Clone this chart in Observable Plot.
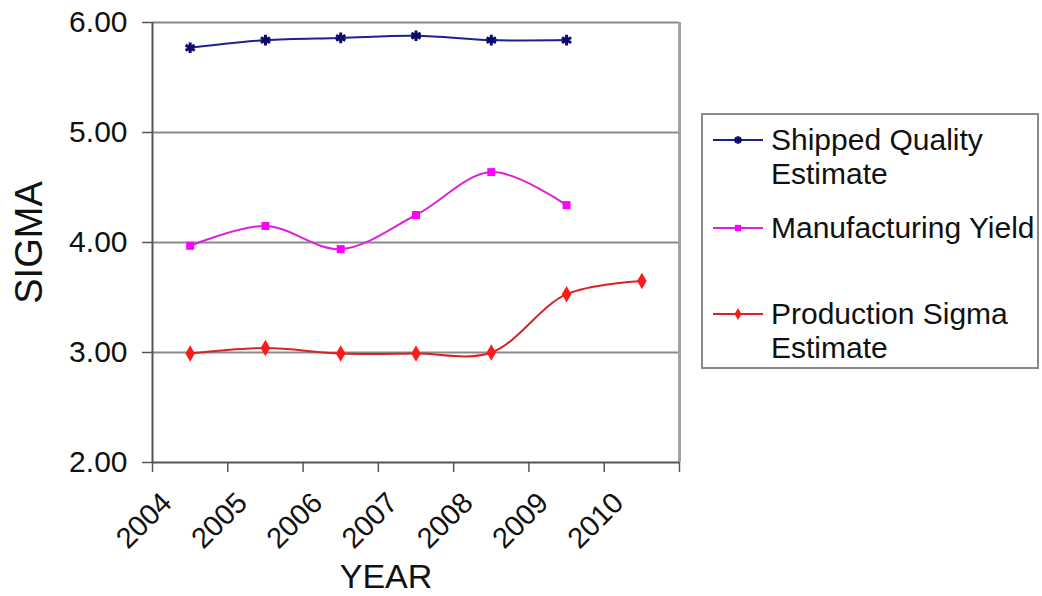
<!DOCTYPE html>
<html>
<head>
<meta charset="utf-8">
<script src="https://cdn.jsdelivr.net/npm/d3@7"></script>
<script src="https://cdn.jsdelivr.net/npm/@observablehq/plot@0.6"></script>
<style>
  html, body { margin: 0; padding: 0; background: #fff; }
  #chart { position: relative; width: 1042px; height: 596px; font-family: "Liberation Sans", Arial, sans-serif; }
  #legend {
    position: absolute; left: 701px; top: 113px; width: 338px; height: 256px;
    border: 2px solid #8a8a8a; background: #fff; box-sizing: border-box;
  }
  .entry { position: absolute; left: 10px; display: flex; align-items: flex-start; }
  .entry svg { flex: none; }
  .entry .lbl { font-size: 30px; line-height: 34px; color: #111; white-space: nowrap; }
</style>
</head>
<body>
<div id="chart"></div>
<script>
// Category years; each value sits in the middle of its year slot
const years = [2004, 2005, 2006, 2007, 2008, 2009, 2010];
const tickYears = [2004, 2005, 2006, 2007, 2008, 2009, 2010, 2011];
const yTicks = [2, 3, 4, 5, 6];
const gridValues = [3, 4, 5, 6];

// Sigma levels per year
const shippedQuality = [5.77, 5.84, 5.86, 5.88, 5.84, 5.84];
const manufacturingYield = [3.97, 4.15, 3.94, 4.25, 4.64, 4.34];
const productionSigma = [2.99, 3.04, 2.99, 2.99, 3.00, 3.53, 3.65];

const seriesNames = ["Shipped Quality Estimate", "Manufacturing Yield", "Production Sigma Estimate"];
const legendLines = [["Shipped Quality", "Estimate"], ["Manufacturing Yield"], ["Production Sigma", "Estimate"]];
const lineColors = ["#1f1f8f", "#dd22dd", "#d62424"];
const markColors = ["#0a0a6e", "#ff00ff", "#ff1a1a"];
const symbols = ["asterisk", "square", "diamond"];

const rows = (name, values) => values.map((v, i) => ({series: name, year: years[i], slot: years[i] + 0.5, value: v}));
const data = [
  ...rows(seriesNames[0], shippedQuality),
  ...rows(seriesNames[1], manufacturingYield),
  ...rows(seriesNames[2], productionSigma)
];

const font = "Liberation Sans, Arial, sans-serif";

const seriesMarks = seriesNames.flatMap((name, i) => {
  const d = data.filter(r => r.series === name);
  const dot = symbols[i] === "asterisk"
    ? Plot.dot(d, {x: "slot", y: "value", symbol: "asterisk", r: 5, stroke: markColors[i], strokeWidth: 3})
    : Plot.dot(d, {x: "slot", y: "value", symbol: symbols[i], r: symbols[i] === "square" ? 4.5 : 5, fill: markColors[i], stroke: "none"});
  return [
    Plot.line(d, {x: "slot", y: "value", curve: "catmull-rom", stroke: lineColors[i], strokeWidth: 2}),
    dot
  ];
});

const chart = Plot.plot({
  width: 1042,
  height: 596,
  marginLeft: 152,
  marginRight: 363,
  marginTop: 22,
  marginBottom: 134,
  style: {fontFamily: font, background: "#fff", color: "#111"},
  x: {type: "linear", domain: [tickYears[0], tickYears[tickYears.length - 1]]},
  y: {domain: [yTicks[0], yTicks[yTicks.length - 1]]},
  marks: [
    Plot.ruleY(gridValues, {stroke: "#8a8a8a", strokeWidth: 2}),
    Plot.ruleX([tickYears[tickYears.length - 1]], {stroke: "#a3a3a3", strokeWidth: 3}),
    Plot.ruleX([tickYears[0]], {stroke: "#555", strokeWidth: 2}),
    Plot.ruleY([yTicks[0]], {stroke: "#555", strokeWidth: 2}),
    Plot.axisY({
      ticks: yTicks, tickFormat: d3.format(".2f"), tickSize: 10, tickPadding: 15,
      fontSize: 30, stroke: "#555", strokeWidth: 1.5, label: null
    }),
    Plot.axisX({
      ticks: tickYears, tickFormat: () => "", tickSize: 10, stroke: "#555", strokeWidth: 1.5, label: null
    }),
    Plot.text(years, {
      x: d => d, frameAnchor: "bottom", text: d => String(d), rotate: -45,
      textAnchor: "end", lineAnchor: "bottom", dx: 21, dy: 42, fontSize: 29, fill: "#111"
    }),
    Plot.text(["SIGMA"], {
      frameAnchor: "left", text: d => d, rotate: -90, textAnchor: "middle",
      dx: -123, fontSize: 38, fill: "#111"
    }),
    Plot.text(["YEAR"], {
      frameAnchor: "bottom", text: d => d, dx: -30, dy: 125, fontSize: 34, fill: "#111"
    }),
    ...seriesMarks
  ]
});

const root = document.getElementById("chart");
root.appendChild(chart);

// Legend box to the right of the plot
const legend = document.createElement("div");
legend.id = "legend";
const entryTops = [8, 96, 182];
seriesNames.forEach((name, i) => {
  const entry = document.createElement("div");
  entry.className = "entry";
  entry.style.top = entryTops[i] + "px";
  const sw = d3.create("svg").attr("width", 58).attr("height", 34);
  sw.append("line").attr("x1", 0).attr("x2", 50).attr("y1", 17).attr("y2", 17)
    .attr("stroke", lineColors[i]).attr("stroke-width", 2);
  const sym = d3.symbol(symbols[i] === "asterisk" ? d3.symbolAsterisk : symbols[i] === "square" ? d3.symbolSquare : d3.symbolDiamond, 40);
  sw.append("path").attr("d", sym()).attr("transform", "translate(25,17)")
    .attr("fill", symbols[i] === "asterisk" ? "none" : markColors[i])
    .attr("stroke", symbols[i] === "asterisk" ? markColors[i] : "none")
    .attr("stroke-width", 3);
  entry.appendChild(sw.node());
  const lbl = document.createElement("div");
  lbl.className = "lbl";
  lbl.innerHTML = legendLines[i].join("<br>");
  entry.appendChild(lbl);
  legend.appendChild(entry);
});
root.appendChild(legend);
</script>
</body>
</html>
